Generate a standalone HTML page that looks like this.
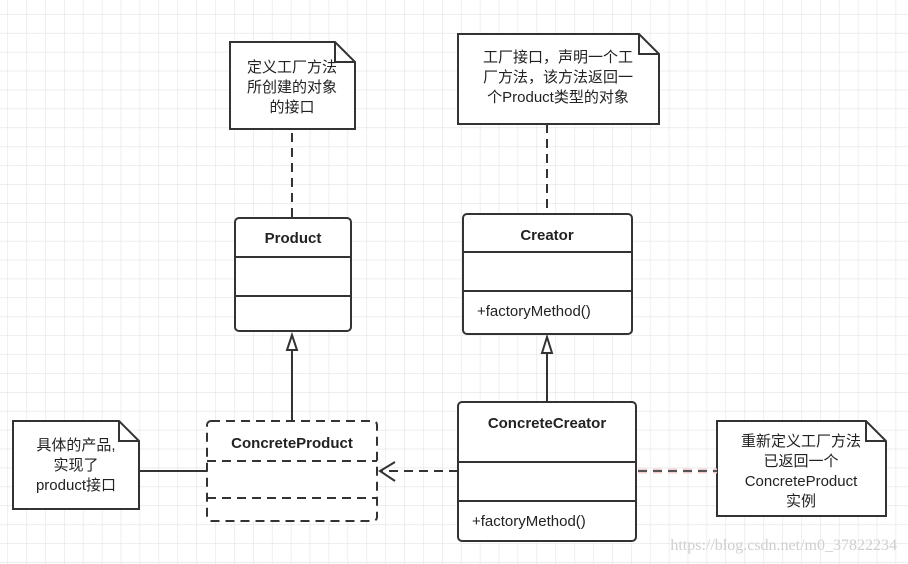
<!DOCTYPE html>
<html><head><meta charset="utf-8"><style>
html,body{margin:0;padding:0;background:#fff}
svg{display:block}
text{font-family:"Liberation Sans","Noto Sans CJK SC",sans-serif;fill:#222}
</style></head><body>
<svg width="908" height="564" viewBox="0 0 908 564" xmlns="http://www.w3.org/2000/svg">
<defs>
<pattern id="g" x="7.3" y="14" width="18.9" height="18.9" patternUnits="userSpaceOnUse">
<path d="M0 0H18.9M0 0V18.9" stroke="#e3e3e3" stroke-width="1.2" fill="none"/>
</pattern>
</defs>
<rect width="908" height="564" fill="#fff"/>
<rect width="908" height="564" fill="url(#g)"/>
<g stroke="#333" stroke-width="2" fill="none">
<path d="M230 42H335L355 62V129H230Z" fill="#fff"/>
<path d="M335 42V62H355"/>
<path d="M458 34H639L659 54V124H458Z" fill="#fff"/>
<path d="M639 34V54H659"/>
<path d="M13 421H119L139 441V509H13Z" fill="#fff"/>
<path d="M119 421V441H139"/>
<path d="M717 421H866L886 441V516H717Z" fill="#fff"/>
<path d="M866 421V441H886"/>
<path d="M292 133V218" stroke-dasharray="9 6"/>
<path d="M547 124V214" stroke-dasharray="9 6"/>
<path d="M638 471H717" stroke="#f0d0d0" stroke-width="5" stroke-dasharray="9 6"/>
<path d="M638 471H717" stroke-dasharray="9 6" stroke="#555"/>
<rect x="235" y="218" width="116" height="113" rx="4" fill="#fff"/>
<path d="M235 257H351M235 296H351"/>
<rect x="463" y="214" width="169" height="120" rx="4" fill="#fff"/>
<path d="M463 252H632M463 291H632"/>
<rect x="207" y="421" width="170" height="100" rx="4" fill="#fff" stroke-dasharray="9 6"/>
<path d="M207 461H377M207 498H377" stroke-dasharray="9 6"/>
<rect x="458" y="402" width="178" height="139" rx="4" fill="#fff"/>
<path d="M458 462H636M458 501H636"/>
<path d="M292 421V351"/>
<path d="M292 335L287 350H297Z" fill="#fff"/>
<path d="M547 402V354"/>
<path d="M547 337L542 353H552Z" fill="#fff"/>
<path d="M139 471H207"/>
<path d="M458 471H382" stroke-dasharray="9 6"/>
<path d="M395 462L380 471L395 481"/>
</g>
<g font-size="15" text-anchor="middle">
<text x="292" y="72">定义工厂方法</text>
<text x="292" y="92">所创建的对象</text>
<text x="292" y="112">的接口</text>
<text x="558" y="62">工厂接口，声明一个工</text>
<text x="558" y="82">厂方法，该方法返回一</text>
<text x="558" y="102">个Product类型的对象</text>
<text x="76" y="450">具体的产品,</text>
<text x="76" y="470">实现了</text>
<text x="76" y="490">product接口</text>
<text x="801" y="446">重新定义工厂方法</text>
<text x="801" y="466">已返回一个</text>
<text x="801" y="486">ConcreteProduct</text>
<text x="801" y="506">实例</text>
</g>
<g font-size="15" font-weight="bold" text-anchor="middle">
<text x="293" y="243">Product</text>
<text x="547" y="240">Creator</text>
<text x="292" y="448">ConcreteProduct</text>
<text x="547" y="428">ConcreteCreator</text>
</g>
<g font-size="15">
<text x="477" y="316">+factoryMethod()</text>
<text x="472" y="526">+factoryMethod()</text>
</g>
<text x="897" y="550" font-size="16" text-anchor="end" style="font-family:'Liberation Serif',serif;fill:#cfcfcf">https://blog.csdn.net/m0_37822234</text>
</svg>
</body></html>
